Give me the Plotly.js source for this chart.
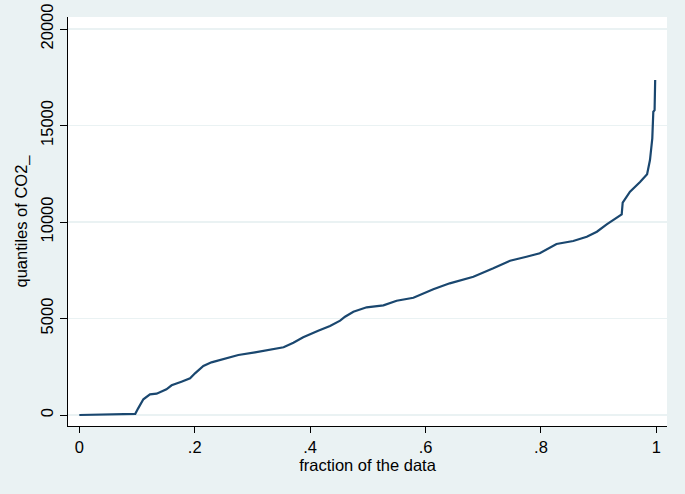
<!DOCTYPE html>
<html>
<head>
<meta charset="utf-8">
<script src="https://cdn.plot.ly/plotly-3.0.1.min.js"></script>
<style>html,body{margin:0;padding:0;background:#EAF2F3;}</style>
</head>
<body>
<div id="chart" style="width:685px;height:494px;"></div>
<script>
// fraction of the data
const fraction = [0, 0.05, 0.097, 0.102, 0.111, 0.1225, 0.134, 0.151, 0.160, 0.177, 0.192, 0.2005, 0.215, 0.229, 0.247, 0.2756, 0.3045, 0.339, 0.354, 0.371, 0.388, 0.414, 0.4345, 0.452, 0.4605, 0.475, 0.498, 0.527, 0.550, 0.579, 0.596, 0.6135, 0.642, 0.677, 0.683, 0.7175, 0.7465, 0.775, 0.798, 0.827, 0.856, 0.8795, 0.897, 0.914, 0.940, 0.9417, 0.9544, 0.9718, 0.984, 0.989, 0.993, 0.9948, 0.997, 0.998];
// quantiles of CO2_
const quantiles = [0, 30, 60, 345, 813, 1072, 1104, 1331, 1537, 1726, 1900, 2159, 2538, 2728, 2883, 3108, 3246, 3419, 3507, 3746, 4025, 4368, 4611, 4886, 5093, 5352, 5580, 5683, 5922, 6077, 6305, 6512, 6823, 7100, 7166, 7600, 7994, 8201, 8377, 8859, 9015, 9238, 9497, 9880, 10398, 11000, 11570, 12072, 12470, 13212, 14336, 15714, 15800, 17356];
const xTickVals = [0, 0.2, 0.4, 0.6, 0.8, 1];
const xTickText = ['0', '.2', '.4', '.6', '.8', '1'];
const yTickVals = [0, 5000, 10000, 15000, 20000];
const yTickText = ['0', '5000', '10000', '15000', '20000'];

const trace = {
  x: fraction, y: quantiles, type: 'scatter', mode: 'lines',
  line: {color: '#1a476f', width: 2.2}, hoverinfo: 'skip'
};
const font = {family: 'Liberation Sans, Arial, sans-serif', size: 16.5, color: '#000'};
const layout = {
  width: 685, height: 494,
  margin: {l: 68, r: 18, t: 17, b: 68, pad: 0},
  paper_bgcolor: '#EAF2F3', plot_bgcolor: '#FFFFFF',
  showlegend: false, font: font,
  xaxis: {
    range: [-0.0196, 1.0185], tickvals: xTickVals, ticktext: xTickText,
    showgrid: false, zeroline: false, showline: true, linecolor: '#000', linewidth: 1,
    ticks: 'outside', ticklen: 6, tickcolor: '#000', tickfont: font,
    title: {text: 'fraction of the data', font: font, standoff: 4}
  },
  yaxis: {
    range: [-570, 20622], tickvals: yTickVals, ticktext: yTickText, tickangle: -90,
    showgrid: true, gridcolor: '#EAF2F3', gridwidth: 1.5, zeroline: false,
    showline: true, linecolor: '#000', linewidth: 1,
    ticks: 'outside', ticklen: 7, tickcolor: '#000', tickfont: font,
    title: {text: 'quantiles of CO2_', font: font, standoff: 6}
  }
};
Plotly.newPlot('chart', [trace], layout, {displayModeBar: false, staticPlot: true});
</script>
</body>
</html>
